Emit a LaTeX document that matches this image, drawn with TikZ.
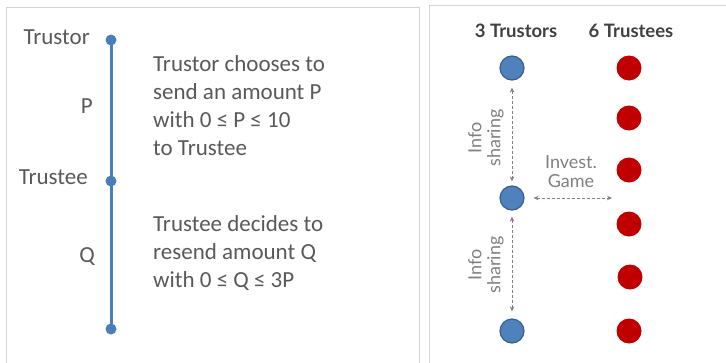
\documentclass[tikz,border=0pt]{standalone}
\usepackage{fontspec}
\setmainfont{Carlito}
\newfontfamily\gillish{Lato}
\usetikzlibrary{arrows.meta}
\definecolor{panelgray}{HTML}{D4D4D4}
\definecolor{tlblue}{HTML}{4A7EBB}
\definecolor{dotblue}{HTML}{4F81BD}
\definecolor{dotblueedge}{HTML}{3A5F8C}
\definecolor{dotred}{HTML}{C00000}
\definecolor{textgray}{HTML}{595959}
\definecolor{titlegray}{HTML}{404040}
\definecolor{lightgray}{HTML}{808080}
\begin{document}
\begin{tikzpicture}[x=1pt,y=-1pt,
  panel/.style={draw=panelgray,line width=1pt},
  tdot/.style={circle,fill=tlblue,inner sep=0pt,minimum size=11pt},
  tline/.style={draw=tlblue,line width=3pt},
  lbl/.style={text=textgray,font=\fontsize{23}{28}\selectfont,inner sep=0pt},
  block/.style={lbl,align=left},
  title/.style={text=titlegray,font=\gillish\bfseries\fontsize{18.5}{22}\selectfont,inner sep=0pt},
  trustor/.style={circle,fill=dotblue,draw=dotblueedge,line width=1.2pt,minimum size=24pt,inner sep=0pt},
  trustee/.style={circle,fill=dotred,minimum size=25pt,inner sep=0pt},
  darr/.style={draw=lightgray,line width=0.9pt,dash pattern=on 3pt off 2pt,{Stealth[length=5pt,width=4.5pt]}-{Stealth[length=5pt,width=4.5pt]}},
  glbl/.style={text=lightgray,font=\gillish\fontsize{18}{19}\selectfont,align=center,inner sep=0pt}]
\useasboundingbox (0,0) rectangle (726,362);
% panels
\draw[panel] (6,363) -- (6,7) -- (419,7) -- (419,363);
\draw[panel] (429,363) -- (429,5) -- (727,5);
% timeline
\node[tdot] (t1) at (111,40) {};
\node[tdot] (t2) at (111,181) {};
\node[tdot] (t3) at (111,329) {};
\draw[tline] (t1.center) -- (t2.center) -- (t3.center);
\node[lbl,anchor=base east] (ltrustor) at (90,44) {Trustor};
\node[lbl,anchor=base east] (lp) at (93,113) {P};
\node[lbl,anchor=base east] (ltrustee) at (88,184) {Trustee};
\node[lbl,anchor=base east] (lq) at (95,262) {Q};
\node[block,anchor=base west] (b1) at (153,155) {Trustor chooses to\\send an amount P\\with 0 ≤ P ≤ 10\\to Trustee};
\node[block,anchor=base west] (b2) at (153,287) {Trustee decides to\\resend amount Q\\with 0 ≤ Q ≤ 3P};
% right panel
\node[title,anchor=base] (h1) at (516,37) {3 Trustors};
\node[title,anchor=base] (h2) at (631,37) {6 Trustees};
\node[trustor] (a1) at (512,68) {};
\node[trustor] (a2) at (512,198) {};
\node[trustor] (a3) at (512,331) {};
\node[trustee] (r1) at (629,68) {};
\node[trustee] (r2) at (629,118) {};
\node[trustee] (r3) at (629,170) {};
\node[trustee] (r4) at (629,224) {};
\node[trustee] (r5) at (630,277) {};
\node[trustee] (r6) at (629,331) {};
\coordinate (gend) at (612,198);
\draw[darr,shorten <=7pt,shorten >=4pt] (a1) -- (a2);
\draw[darr,shorten <=6pt,shorten >=7pt] (a2) -- (a3);
\draw[darr,shorten <=9pt] (a2) -- (gend);
\node[glbl,rotate=90] (i1) at (486,138) {Info\\sharing};
\node[glbl,rotate=90] (i2) at (486,265) {Info\\sharing};
\node[glbl] (ig) at (571,172) {Invest.\\Game};
\end{tikzpicture}
\end{document}
